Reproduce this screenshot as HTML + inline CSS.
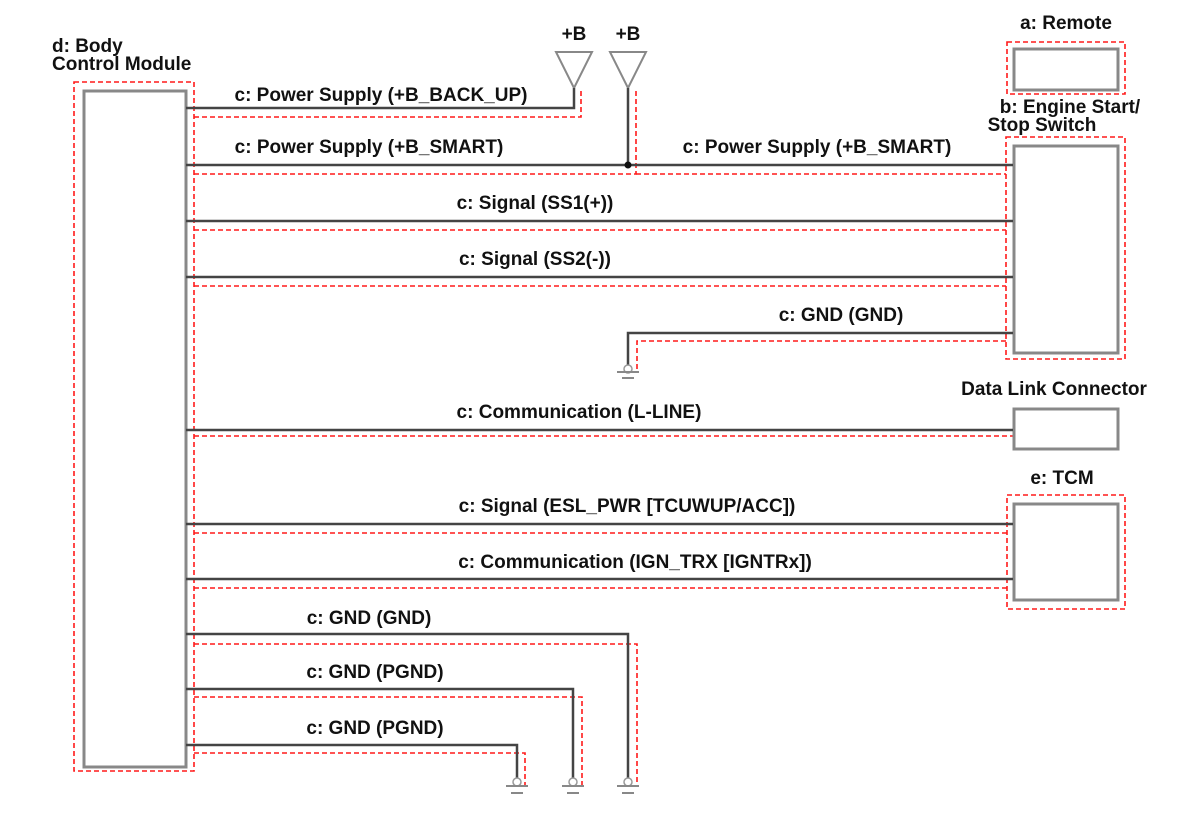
<!DOCTYPE html>
<html><head><meta charset="utf-8"><style>
html,body{margin:0;padding:0;background:#fff;}
svg{display:block;}
text{font-family:"Liberation Sans",Arial,sans-serif;font-weight:bold;font-size:19px;fill:#111;}
</style></head><body>
<svg width="1200" height="828" viewBox="0 0 1200 828" xmlns="http://www.w3.org/2000/svg">
<g fill="none" stroke="#ff1a1a" stroke-width="1.6" stroke-dasharray="5,3">
 <rect x="74" y="82" width="120" height="689"/>
 <rect x="1007" y="42" width="118" height="52"/>
 <rect x="1006" y="137" width="119" height="222"/>
 <rect x="1007" y="495" width="118" height="114"/>
 <polyline points="194,117 581,117 581,88"/>
 <polyline points="194,174 636,174 636,88"/>
 <line x1="636" y1="174" x2="1006" y2="174"/>
 <line x1="194" y1="230" x2="1006" y2="230"/>
 <line x1="194" y1="286" x2="1006" y2="286"/>
 <polyline points="1006,341 637,341 637,372"/>
 <line x1="194" y1="436" x2="1013" y2="436"/>
 <line x1="194" y1="533" x2="1007" y2="533"/>
 <line x1="194" y1="588" x2="1007" y2="588"/>
 <polyline points="194,644 637,644 637,787"/>
 <polyline points="194,697 582,697 582,787"/>
 <polyline points="194,753 525,753 525,787"/>
</g>
<g fill="#fff" stroke="#888" stroke-width="3">
 <rect x="84" y="91" width="102" height="676"/>
 <rect x="1014" y="49" width="104" height="41"/>
 <rect x="1014" y="146" width="104" height="207"/>
 <rect x="1014" y="409" width="104" height="40"/>
 <rect x="1014" y="504" width="104" height="96"/>
</g>
<g fill="none" stroke="#888" stroke-width="2">
 <polygon points="556,52 592,52 574,88"/>
 <polygon points="610,52 646,52 628,88"/>
</g>
<g fill="none" stroke="#444" stroke-width="2.5">
 <polyline points="186,108 574,108 574,88"/>
 <line x1="186" y1="165" x2="1013" y2="165"/>
 <line x1="628" y1="88" x2="628" y2="165"/>
 <line x1="186" y1="221" x2="1013" y2="221"/>
 <line x1="186" y1="277" x2="1013" y2="277"/>
 <polyline points="1013,333 628,333 628,366"/>
 <line x1="186" y1="430" x2="1013" y2="430"/>
 <line x1="186" y1="524" x2="1013" y2="524"/>
 <line x1="186" y1="579" x2="1013" y2="579"/>
 <polyline points="186,634 628,634 628,779"/>
 <polyline points="186,689 573,689 573,779"/>
 <polyline points="186,745 517,745 517,779"/>
</g>
<circle cx="628" cy="165" r="3.5" fill="#111"/>
<g fill="#fff" stroke="#999" stroke-width="1.5">
 <circle cx="628" cy="369" r="4"/>
 <circle cx="628" cy="782" r="4"/>
 <circle cx="573" cy="782" r="4"/>
 <circle cx="517" cy="782" r="4"/>
</g>
<g stroke="#888" stroke-width="2">
 <line x1="617" y1="372" x2="639" y2="372"/><line x1="622" y1="378" x2="634" y2="378"/>
 <line x1="617" y1="786" x2="639" y2="786"/><line x1="622" y1="793" x2="634" y2="793"/>
 <line x1="562" y1="786" x2="584" y2="786"/><line x1="567" y1="793" x2="579" y2="793"/>
 <line x1="506" y1="786" x2="528" y2="786"/><line x1="511" y1="793" x2="523" y2="793"/>
</g>
<text x="52" y="52">d: Body</text>
<text x="52" y="70">Control Module</text>
<text x="574" y="40" text-anchor="middle">+B</text>
<text x="628" y="40" text-anchor="middle">+B</text>
<text x="1066" y="29" text-anchor="middle">a: Remote</text>
<text x="1070" y="113" text-anchor="middle">b: Engine Start/</text>
<text x="1042" y="131" text-anchor="middle">Stop Switch</text>
<text x="1054" y="395" text-anchor="middle">Data Link Connector</text>
<text x="1062" y="484" text-anchor="middle">e: TCM</text>
<text x="381" y="101" text-anchor="middle">c: Power Supply (+B_BACK_UP)</text>
<text x="369" y="153" text-anchor="middle">c: Power Supply (+B_SMART)</text>
<text x="817" y="153" text-anchor="middle">c: Power Supply (+B_SMART)</text>
<text x="535" y="209" text-anchor="middle">c: Signal (SS1(+))</text>
<text x="535" y="265" text-anchor="middle">c: Signal (SS2(-))</text>
<text x="841" y="321" text-anchor="middle">c: GND (GND)</text>
<text x="579" y="418" text-anchor="middle">c: Communication (L-LINE)</text>
<text x="627" y="512" text-anchor="middle">c: Signal (ESL_PWR [TCUWUP/ACC])</text>
<text x="635" y="568" text-anchor="middle">c: Communication (IGN_TRX [IGNTRx])</text>
<text x="369" y="624" text-anchor="middle">c: GND (GND)</text>
<text x="375" y="678" text-anchor="middle">c: GND (PGND)</text>
<text x="375" y="734" text-anchor="middle">c: GND (PGND)</text>
</svg>
</body></html>
